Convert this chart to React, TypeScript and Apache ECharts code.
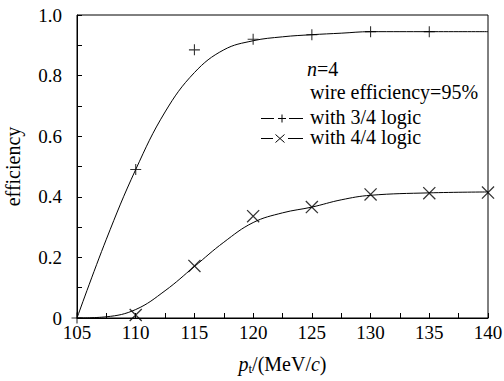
import React, { useEffect, useRef } from "react";
import * as echarts from "echarts";

const xMarks = [105, 110, 115, 120, 125, 130, 135, 140];
const logic34Points = [0, 0.49, 0.885, 0.92, 0.935, 0.945, 0.945];
const logic44Points = [null, 0.01, 0.172, 0.336, 0.366, 0.408, 0.412, 0.414];

const curveX = [105, 107.5, 110, 112.5, 115, 117.5, 120, 122.5, 125, 127.5, 130, 135, 140];
const logic34Curve = [0, 0.26, 0.49, 0.68, 0.81, 0.885, 0.915, 0.928, 0.935, 0.94, 0.945, 0.945, 0.945];
const logic44Curve = [0, 0.004, 0.028, 0.09, 0.17, 0.25, 0.315, 0.347, 0.366, 0.39, 0.405, 0.413, 0.416];

const legendTitle = "n";
const legendWire = "wire efficiency=95%";
const legend34 = "with 3/4 logic";
const legend44 = "with 4/4 logic";

const PLUS = "path://M4.5,0h1v10h-1z M0,4.5h10v1h-10z";
const CROSS = "path://M0,0.7 L0.7,0 L10,9.3 L9.3,10 Z M9.3,0 L10,0.7 L0.7,10 L0,9.3 Z";

const FONT = "'Liberation Serif', 'Times New Roman', serif";
const TICK_FS = 19;
const TXT_FS = 20;

export default function App() {
  const ref = useRef<HTMLDivElement>(null);
  useEffect(() => {
    if (!ref.current) return;
    const chart = echarts.init(ref.current, null, { renderer: "svg" });
    const pts = (ys: (number | null)[]) =>
      xMarks.map((x, i) => [x, ys[i]]).filter((p) => p[1] !== null && p[1] !== undefined);
    const curve = (ys: number[]) => curveX.map((x, i) => [x, ys[i]]);
    const seg = (x1: number, y1: number, x2: number, y2: number) => ({
      type: "line",
      shape: { x1, y1, x2, y2 },
      style: { stroke: "#000", lineWidth: 1 },
    });
    const txt = (x: number, y: number, text: string, extra: any = {}) => ({
      type: "text",
      x,
      y,
      style: {
        text,
        fontFamily: FONT,
        fontSize: TXT_FS,
        fill: "#000",
        verticalAlign: "middle",
        align: "left",
        ...extra,
      },
    });
    chart.setOption({
      animation: false,
      backgroundColor: "#fff",
      textStyle: { fontFamily: FONT, color: "#000" },
      grid: {
        left: 77,
        right: 16,
        top: 15,
        bottom: 63,
        containLabel: false,
        outerBoundsMode: "none",
        show: true,
        borderColor: "#000",
        borderWidth: 1,
        backgroundColor: "transparent",
      },
      xAxis: {
        type: "value",
        min: 105,
        max: 140,
        interval: 5,
        axisLine: { lineStyle: { color: "#000", width: 1 } },
        axisTick: { inside: true, length: 5, lineStyle: { color: "#000" } },
        minorTick: { show: true, splitNumber: 2, length: 5, lineStyle: { color: "#000" } },
        splitLine: { show: false },
        axisLabel: { fontFamily: FONT, fontSize: TICK_FS, color: "#000", margin: 5 },
        name: "{p|p}{t|t}{n|/(MeV/}{p|c}{n|)}",
        nameLocation: "middle",
        nameGap: 35,
        nameTextStyle: {
          fontFamily: FONT,
          color: "#000",
          rich: {
            p: { fontFamily: FONT, fontSize: TXT_FS, fontStyle: "italic", color: "#000" },
            t: { fontFamily: FONT, fontSize: 13, color: "#000", padding: [9, 0, 0, 0] },
            n: { fontFamily: FONT, fontSize: TXT_FS, color: "#000" },
          },
        },
      },
      yAxis: {
        type: "value",
        min: 0,
        max: 1,
        interval: 0.2,
        axisLine: { show: true, lineStyle: { color: "#000", width: 1 } },
        axisTick: { show: true, inside: true, length: 5, lineStyle: { color: "#000" } },
        minorTick: { show: true, splitNumber: 2, length: 5, lineStyle: { color: "#000" } },
        splitLine: { show: false },
        axisLabel: {
          fontFamily: FONT,
          fontSize: TICK_FS,
          color: "#000",
          margin: 15,
          formatter: (v: number) => (v === 0 ? "0" : v.toFixed(1)),
        },
        name: "efficiency",
        nameLocation: "middle",
        nameRotate: 90,
        nameGap: 54,
        nameTextStyle: { fontFamily: FONT, fontSize: TXT_FS, color: "#000" },
      },
      series: [
        {
          type: "line",
          data: curve(logic34Curve),
          smooth: 0.4,
          showSymbol: false,
          lineStyle: { color: "#000", width: 1 },
        },
        {
          type: "line",
          data: curve(logic44Curve),
          smooth: 0.4,
          showSymbol: false,
          lineStyle: { color: "#000", width: 1 },
        },
        {
          type: "scatter",
          data: pts(logic34Points),
          symbol: PLUS,
          symbolSize: 11,
          itemStyle: { color: "#000" },
        },
        {
          type: "scatter",
          data: pts(logic44Points),
          symbol: CROSS,
          symbolSize: 13,
          itemStyle: { color: "#000" },
        },
      ],
      graphic: [
        {
          type: "text",
          x: 307,
          y: 69,
          style: {
            text: "{i|" + legendTitle + "}{n|=4}",
            verticalAlign: "middle",
            rich: {
              i: { fontFamily: FONT, fontSize: TXT_FS, fontStyle: "italic", fill: "#000" },
              n: { fontFamily: FONT, fontSize: TXT_FS, fill: "#000" },
            },
          },
        },
        txt(310, 92, legendWire),
        txt(310, 117, legend34),
        txt(310, 137, legend44),
        seg(261, 118.5, 274, 118.5),
        seg(278, 118.5, 286, 118.5),
        seg(282, 114.5, 282, 122.5),
        seg(289, 118.5, 303, 118.5),
        seg(261, 138.5, 273, 138.5),
        seg(275.5, 134.5, 284.5, 142.5),
        seg(284.5, 134.5, 275.5, 142.5),
        seg(288, 138.5, 303, 138.5),
      ],
    });
    return () => chart.dispose();
  }, []);
  return (
    <div
      ref={ref}
      style={{ position: "absolute", left: 0, top: 0, width: 504, height: 381 }}
    />
  );
}
